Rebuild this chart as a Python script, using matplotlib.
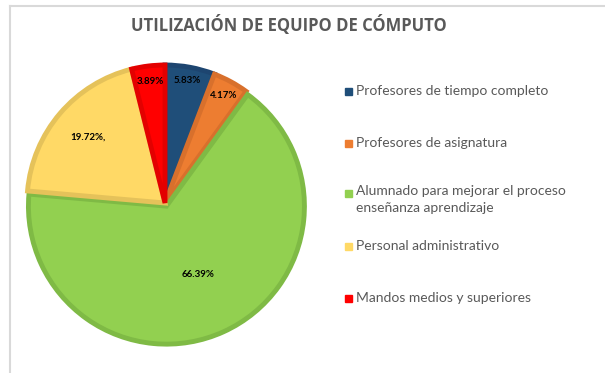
import matplotlib
matplotlib.use("Agg")
from matplotlib import pyplot as plt
from matplotlib.patches import Rectangle
import numpy as np

categories = [
    "Profesores de tiempo completo",
    "Profesores de asignatura",
    "Alumnado para mejorar el proceso\nenseñanza aprendizaje",
    "Personal administrativo",
    "Mandos medios y superiores",
]
values = [5.83, 4.17, 66.39, 19.72, 3.89]
labels = ["5.83%", "4.17%", "66.39%", "19.72%,", "3.89%"]

fills = ["#1F4E79", "#ED7D31", "#92D050", "#FFD966", "#FF0000"]
edges = ["#1D4570", "#D8702C", "#7FBA45", "#E5C25A", "#E30000"]

W, H = 605, 373
fig = plt.figure(figsize=(W / 100, H / 100), dpi=100)
fig.patch.set_facecolor("white")

# light frame on top and left
fig.add_artist(plt.Line2D([9.5 / W, 9.5 / W], [0, 1 - 5.5 / H], color="#D9D9D9", lw=1.5))
fig.add_artist(plt.Line2D([9.5 / W, 1], [1 - 5.5 / H, 1 - 5.5 / H], color="#D9D9D9", lw=1.5))

fig.text(289 / W, 1 - 25 / H, "UTILIZACIÓN DE EQUIPO DE CÓMPUTO", ha="center", va="center",
         fontsize=12, fontweight="bold", color="#595959", family="Open Sans")

# pie axes: centre (165, 203) px, radius 138 px
cx, cy, r = 165, 203, 138
lim = 1.1
side = 2 * lim * r
ax = fig.add_axes([(cx - side / 2) / W, 1 - (cy + side / 2) / H, side / W, side / H])
wedges, _ = ax.pie(values, colors=fills, startangle=90, counterclock=False,
                   explode=[0, 0, 0.025, 0, 0], radius=1,
                   wedgeprops=dict(linewidth=3.5))
for w, ec in zip(wedges, edges):
    w.set_edgecolor(ec)
    w.set_joinstyle("miter")
ax.set_xlim(-lim, lim)
ax.set_ylim(-lim, lim)
ax.set_aspect("equal")
ax.axis("off")

# label distance from the centre for each slice
dist = [0.9, 0.89, 0.57, 0.73, 0.89]
for w, lab, d in zip(wedges, labels, dist):
    ang = np.deg2rad((w.theta1 + w.theta2) / 2)
    ax.text(d * np.cos(ang), d * np.sin(ang), lab, ha="center", va="center",
            fontsize=7, fontweight="bold", color="black", family="Lato")

# legend
rows = [91, 143, 193, 246, 298]
for y, name, c in zip(rows, categories, fills):
    fig.add_artist(Rectangle((345 / W, 1 - (y + 4) / H), 7 / W, 7 / H, color=c,
                             transform=fig.transFigure))
    if "\n" in name:
        # two-line entry is anchored at its first line
        fig.text(356 / W, 1 - (y - 8) / H, name, ha="left", va="top",
                 fontsize=10, color="#595959", family="Lato", linespacing=1.45)
    else:
        fig.text(356 / W, 1 - y / H, name, ha="left", va="center",
                 fontsize=10, color="#595959", family="Lato")

fig.savefig("out.png", dpi=100)
